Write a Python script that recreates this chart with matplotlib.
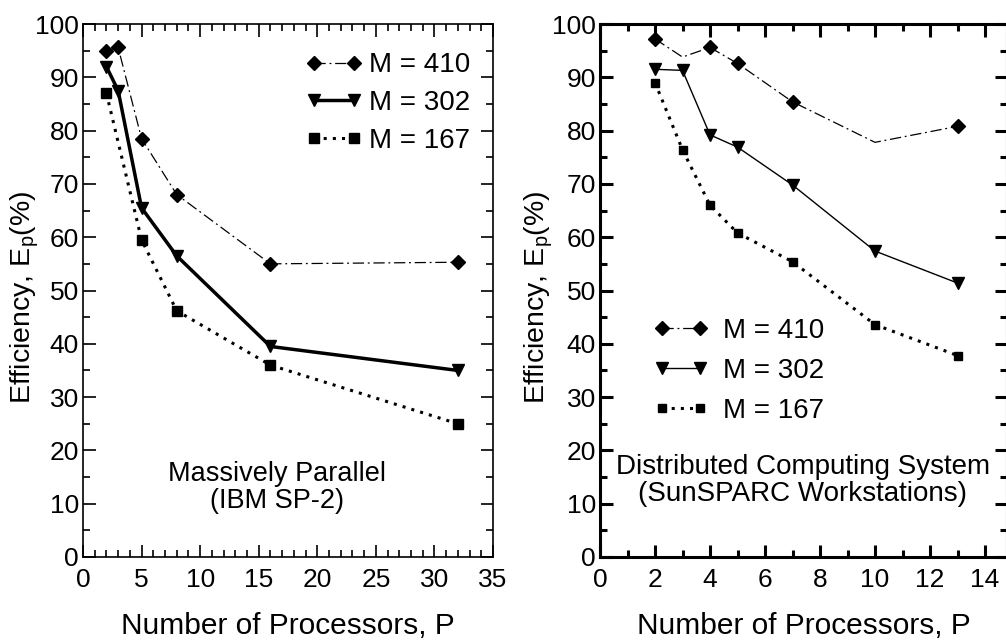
import matplotlib

matplotlib.use("Agg")
import matplotlib.pyplot as plt
from matplotlib.ticker import MultipleLocator

# Massively parallel (IBM SP-2)
sp2_p_410 = [2, 3, 5, 8, 16, 32]
sp2_e_410 = [95, 95.6, 78.5, 68, 55, 55.3]
sp2_p_302 = [2, 3, 5, 8, 16, 32]
sp2_e_302 = [92, 87.5, 65.5, 56.5, 39.5, 35]
sp2_p_167 = [2, 5, 8, 16, 32]
sp2_e_167 = [87, 59.5, 46.2, 36, 25]

# Distributed computing system (SunSPARC workstations)
sun_p = [2, 3, 4, 5, 7, 10, 13]
sun_e_410 = [97.2, 93.8, 95.6, 92.6, 85.4, 77.8, 80.8]
sun_mark_410 = [0, 2, 3, 4, 6]
sun_e_302 = [91.5, 91.3, 79.2, 76.9, 69.8, 57.4, 51.4]
sun_e_167 = [89, 76.4, 66, 60.8, 55.4, 43.6, 37.8]

labels = ["M = 410", "M = 302", "M = 167"]

plt.rcParams["font.family"] = ["Liberation Sans", "DejaVu Sans"]
plt.rcParams["mathtext.fontset"] = "custom"
plt.rcParams["mathtext.rm"] = "Liberation Sans"
plt.rcParams["mathtext.it"] = "Liberation Sans"

DASHDOT = (0, (9, 3, 1.5, 3))


def style_axes(ax, xmax, xmajor, spine_w, ylab_x):
    ax.set_xlim(0, xmax)
    ax.set_ylim(0, 100)
    ax.xaxis.set_major_locator(MultipleLocator(xmajor))
    ax.xaxis.set_minor_locator(MultipleLocator(1))
    ax.yaxis.set_major_locator(MultipleLocator(10))
    ax.yaxis.set_minor_locator(MultipleLocator(5))
    ax.tick_params(which="both", direction="in", top=True, right=True,
                   width=spine_w, colors="black")
    ax.tick_params(which="major", length=9, labelsize=19)
    ax.tick_params(which="minor", length=5)
    ax.tick_params(axis="x", which="major", pad=8)
    ax.tick_params(axis="y", which="major", pad=3)
    for s in ax.spines.values():
        s.set_linewidth(spine_w)
    ax.set_xlabel("Number of Processors, P", fontsize=21.5, labelpad=14)
    ax.set_ylabel(r"Efficiency, E$_\mathregular{p}$(%)", fontsize=20.5)
    ax.yaxis.set_label_coords(ylab_x, 0.488)


def main():
    fig = plt.figure(figsize=(10.06, 6.42), dpi=100)

    ax1 = fig.add_axes([83 / 1006, 85 / 642, 410 / 1006, 533 / 642])
    ax1.plot(sp2_p_410, sp2_e_410, color="black", linestyle=DASHDOT, lw=0.9,
             marker="D", ms=7.5, label=labels[0])
    ax1.plot(sp2_p_302, sp2_e_302, color="black", linestyle="-", lw=2.5,
             marker="v", ms=8, label=labels[1])
    ax1.plot(sp2_p_167, sp2_e_167, color="black", linestyle=(0, (1, 2)),
             lw=2.2, marker="s", ms=6.5, label=labels[2])
    style_axes(ax1, 35, 5, 1.2, -0.102)
    ax1.text(16.6, 13.1, "Massively Parallel\n(IBM SP-2)", fontsize=19.5,
             ha="center", va="center", linespacing=1.05)
    ax1.legend(loc="upper right", bbox_to_anchor=(0.944, 0.947), frameon=False,
               fontsize=20, numpoints=2, handlelength=2.05, handletextpad=0.24,
               labelspacing=0.42, borderpad=0, borderaxespad=0)

    ax2 = fig.add_axes([600 / 1006, 85 / 642, 407 / 1006, 533 / 642])
    ax2.plot(sun_p, sun_e_410, color="black", linestyle=DASHDOT, lw=0.9,
             marker="D", ms=7.5, markevery=sun_mark_410, label=labels[0])
    ax2.plot(sun_p, sun_e_302, color="black", linestyle="-", lw=1.0,
             marker="v", ms=8, label=labels[1])
    ax2.plot(sun_p, sun_e_167, color="black", linestyle=(0, (1, 2)),
             lw=2.2, marker="s", ms=6, label=labels[2])
    style_axes(ax2, 14.8, 2, 2.2, -0.111)
    ax2.text(7.38, 14.3, "Distributed Computing System\n(SunSPARC Workstations)",
             fontsize=20, ha="center", va="center", linespacing=1.05)
    ax2.legend(loc="upper left", bbox_to_anchor=(0.133, 0.448), frameon=False,
               fontsize=20, numpoints=2, handlelength=1.95, handletextpad=0.53,
               labelspacing=0.5, borderpad=0, borderaxespad=0)

    fig.savefig("out.png", dpi=100)


if __name__ == "__main__":
    main()
